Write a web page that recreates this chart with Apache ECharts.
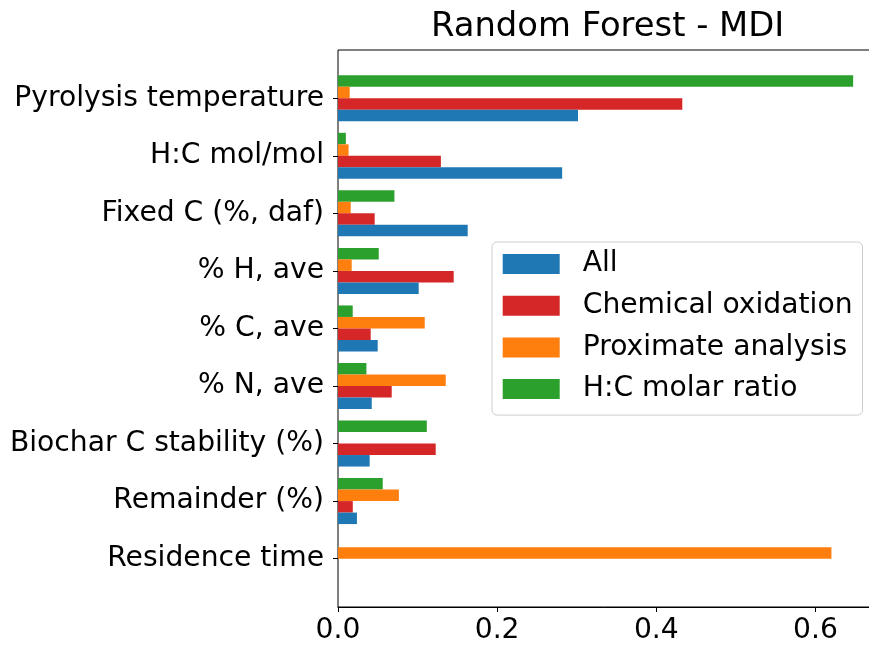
<!DOCTYPE html>
<html>
<head>
<meta charset="utf-8">
<script src="https://cdn.jsdelivr.net/npm/echarts@6/dist/echarts.min.js"></script>
<style>html,body{margin:0;padding:0;background:#fff}#c{width:869px;height:648px}</style>
</head>
<body>
<div id="c"></div>
<script>
const categories = ['Pyrolysis temperature','H:C mol/mol','Fixed C (%, daf)','% H, ave','% C, ave','% N, ave','Biochar C stability (%)','Remainder (%)','Residence time'];
const seriesNames = ['All','Chemical oxidation','Proximate analysis','H:C molar ratio'];
const allVals = [0.3016, 0.2817, 0.163, 0.1014, 0.0499, 0.0424, 0.0398, 0.0238, 0];
const chemVals = [0.4327, 0.1293, 0.0461, 0.1454, 0.0411, 0.0675, 0.1228, 0.0186, 0];
const proxVals = [0.0147, 0.0133, 0.016, 0.0172, 0.109, 0.1354, 0, 0.0765, 0.6201];
const hcVals = [0.6474, 0.0099, 0.0709, 0.0512, 0.0185, 0.0357, 0.1116, 0.0562, 0];
const xTicks = [0, 0.2, 0.4, 0.6];
const colors = ['#1f77b4','#d62728','#ff7f0e','#2ca02c'];
const FONT = 'DejaVu Sans';
const FS = 28.2;
const xMax = 0.678;

const chart = echarts.init(document.getElementById('c'), null, {renderer: 'canvas'});
const valuesList = [allVals, chemVals, proxVals, hcVals];
// first series is drawn at the top of each group in ECharts, so add them in reverse
const series = valuesList.map((vals, i) => ({
  name: seriesNames[i],
  type: 'bar',
  xAxisIndex: 1,
  yAxisIndex: 1,
  data: vals,
  barWidth: 11.5,
  barGap: '0%',
  itemStyle: {color: colors[i]},
  emphasis: {disabled: true},
  animation: false
})).reverse();

chart.setOption({
  animation: false,
  title: {
    text: 'Random Forest - MDI',
    left: 431,
    top: 7,
    padding: 0,
    textStyle: {fontFamily: FONT, fontSize: 33.8, fontWeight: 'normal', color: '#000', lineHeight: 40}
  },
  legend: {
    data: seriesNames,
    orient: 'vertical',
    left: 492,
    top: 242,
    padding: [8, 10, 12, 10.7],
    itemWidth: 57,
    itemHeight: 20,
    itemGap: 13.7,
    icon: 'rect',
    backgroundColor: 'rgba(255,255,255,0.8)',
    borderColor: '#cccccc',
    borderWidth: 1,
    borderRadius: 5,
    selectedMode: false,
    textStyle: {fontFamily: FONT, fontSize: FS, color: '#000', lineHeight: 28, padding: [0, 0, 0, 18]}
  },
  grid: [
    {left: 338, width: 539.5, top: 50, bottom: 41, outerBoundsMode: 'none', containLabel: false, show: true, borderColor: '#000', borderWidth: 1, backgroundColor: 'transparent'},
    {left: 338, width: 539.5, top: 69.5, bottom: 60.6, outerBoundsMode: 'none', containLabel: false}
  ],
  xAxis: [
    {
      type: 'value', gridIndex: 0, min: 0, max: xMax, interval: 0.2,
      axisLine: {show: true, lineStyle: {color: '#000', width: 1}},
      axisTick: {show: true, length: 5, lineStyle: {color: '#000', width: 1}},
      splitLine: {show: false},
      axisLabel: {
        fontFamily: FONT, fontSize: FS, color: '#000', margin: 10, showMaxLabel: false,
        formatter: v => xTicks.some(t => Math.abs(t - v) < 1e-9) ? v.toFixed(1) : ''
      }
    },
    {type: 'value', gridIndex: 1, min: 0, max: xMax, show: false}
  ],
  yAxis: [
    {type: 'value', gridIndex: 0, show: false},
    {
      type: 'category', gridIndex: 1, data: categories, inverse: true,
      axisLine: {show: false},
      axisTick: {show: true, alignWithLabel: true, length: 5, lineStyle: {color: '#000', width: 1}},
      axisLabel: {fontFamily: FONT, fontSize: FS, color: '#000', margin: 14, padding: [2, 0, 0, 0]},
      splitLine: {show: false}
    }
  ],
  series: series
});
</script>
</body>
</html>
